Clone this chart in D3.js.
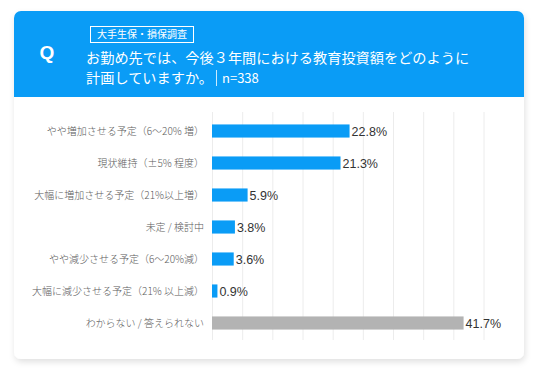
<!DOCTYPE html>
<html>
<head>
<meta charset="utf-8" />
<title>教育投資額の計画</title>
<script src="https://cdn.jsdelivr.net/npm/d3@7"></script>
<style>
  html, body { margin: 0; padding: 0; background: #fff; }
  svg { display: block; }
  .jp { font-family: "Noto Sans CJK JP", "Noto Sans", sans-serif; }
  .num { font-family: "Liberation Sans", Arial, sans-serif; }
</style>
</head>
<body>
<script>
// 設問と回答データ
var question1 = "お勤め先では、今後３年間における教育投資額をどのように";
var question2 = "計画していますか。";
var sampleLabel = "n=338";
var tagLabel = "大手生保・損保調査";

var categories = [
  "やや増加させる予定（6〜20% 増）",
  "現状維持（±5% 程度）",
  "大幅に増加させる予定（21%以上増）",
  "未定 / 検討中",
  "やや減少させる予定（6〜20%減）",
  "大幅に減少させる予定（21% 以上減）",
  "わからない / 答えられない"
];
var values = [22.8, 21.3, 5.9, 3.8, 3.6, 0.9, 41.7];
var gridTicks = [0, 5, 10, 15, 20, 25, 30, 35, 40, 45];

var width = 536, height = 371;
var card = {x: 14, y: 11, w: 510, h: 348, head: 86};

var svg = d3.select("body").append("svg")
    .attr("width", width)
    .attr("height", height);

var defs = svg.append("defs");
var f = defs.append("filter").attr("id", "shadow")
    .attr("x", "-5%").attr("y", "-5%").attr("width", "110%").attr("height", "115%");
f.append("feDropShadow").attr("dx", 1).attr("dy", 3).attr("stdDeviation", 3)
    .attr("flood-color", "#000").attr("flood-opacity", 0.12);
defs.append("clipPath").attr("id", "cardclip")
  .append("rect").attr("x", card.x).attr("y", card.y)
    .attr("width", card.w).attr("height", card.h).attr("rx", 7);

// カード
svg.append("rect")
    .attr("x", card.x).attr("y", card.y)
    .attr("width", card.w).attr("height", card.h)
    .attr("rx", 7)
    .attr("fill", "#fff")
    .attr("filter", "url(#shadow)");

svg.append("rect")
    .attr("clip-path", "url(#cardclip)")
    .attr("x", card.x).attr("y", card.y)
    .attr("width", card.w).attr("height", card.head)
    .attr("fill", "#0a9cf6");

// ヘッダー
svg.append("text")
    .attr("class", "num")
    .attr("x", 47).attr("y", 59)
    .attr("text-anchor", "middle")
    .attr("font-size", 19).attr("font-weight", "bold")
    .attr("fill", "#fff")
    .text("Q");

svg.append("rect")
    .attr("x", 90.5).attr("y", 26.5)
    .attr("width", 103).attr("height", 16)
    .attr("fill", "none").attr("stroke", "#fff").attr("stroke-width", 1);
svg.append("text")
    .attr("class", "jp")
    .attr("x", 142).attr("y", 38)
    .attr("text-anchor", "middle")
    .attr("font-size", 10).attr("fill", "#fff")
    .text(tagLabel);

svg.append("text")
    .attr("class", "jp")
    .attr("x", 86).attr("y", 63)
    .attr("font-size", 14.2).attr("fill", "#fff")
    .text(question1);
var q2 = svg.append("text")
    .attr("class", "jp")
    .attr("x", 86).attr("y", 83)
    .attr("font-size", 14.2).attr("fill", "#fff")
    .text(question2);
var q2w = q2.node().getComputedTextLength();
svg.append("line")
    .attr("x1", 86 + q2w + 3.5).attr("x2", 86 + q2w + 3.5)
    .attr("y1", 70).attr("y2", 86)
    .attr("stroke", "#fff").attr("stroke-opacity", 0.8);
svg.append("text")
    .attr("class", "jp")
    .attr("x", 86 + q2w + 9).attr("y", 83)
    .attr("font-size", 13).attr("fill", "#fff")
    .text(sampleLabel);

// グラフ
var x = d3.scaleLinear().domain([0, 45]).range([212, 483.5]);
var y = d3.scaleBand().domain(categories).range([115, 339])
    .paddingInner(0.59).paddingOuter(0.295);

svg.append("g").selectAll("line")
    .data(gridTicks)
  .enter().append("line")
    .attr("x1", function(d){ return x(d) + 0.5; })
    .attr("x2", function(d){ return x(d) + 0.5; })
    .attr("y1", 112).attr("y2", 340)
    .attr("stroke", "#ececec").attr("stroke-width", 1);

svg.append("g").selectAll("rect")
    .data(values)
  .enter().append("rect")
    .attr("x", x(0))
    .attr("y", function(d, i){ return y(categories[i]); })
    .attr("width", function(d){ return x(d) - x(0); })
    .attr("height", y.bandwidth())
    .attr("fill", function(d, i){ return i === categories.length - 1 ? "#b3b3b3" : "#0a9cf6"; });

svg.append("g").selectAll("text")
    .data(values)
  .enter().append("text")
    .attr("class", "num")
    .attr("x", function(d){ return x(d) + 2; })
    .attr("y", function(d, i){ return y(categories[i]) + y.bandwidth() / 2; })
    .attr("dy", "0.36em")
    .attr("font-size", 12.5).attr("fill", "#333")
    .text(function(d){ return d.toFixed(1) + "%"; });

svg.append("g").selectAll("text")
    .data(categories)
  .enter().append("text")
    .attr("class", "jp")
    .attr("x", 204)
    .attr("y", function(d){ return y(d) + y.bandwidth() / 2; })
    .attr("dy", "0.35em")
    .attr("text-anchor", "end")
    .attr("font-size", 10).attr("font-weight", 300).attr("fill", "#5a5a5a")
    .text(function(d){ return d; });
</script>
</body>
</html>
